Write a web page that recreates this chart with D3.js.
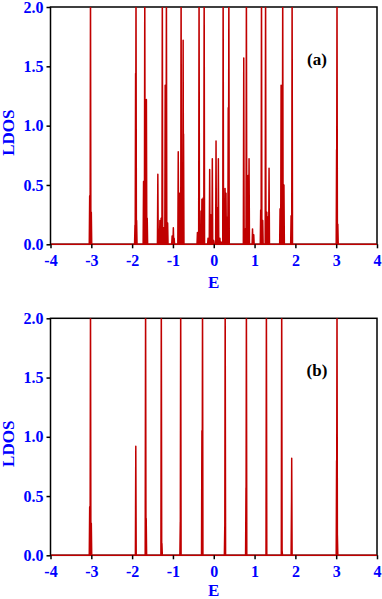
<!DOCTYPE html>
<html>
<head>
<meta charset="utf-8">
<script src="https://cdn.jsdelivr.net/npm/d3@7"></script>
<style>
  body { margin: 0; background: #fff; }
  text { font-family: "Liberation Serif", "Times New Roman", serif; font-weight: bold; }
</style>
</head>
<body>
<div id="chart"></div>
<script>
const width = 382;
const height = 599;

// peak positions (E) and heights (LDOS); tall peaks run off the top of the axis
const energiesA = [-3.04, -3.02, -3.0, -1.93, -1.915, -1.905, -1.89, -1.72, -1.70, -1.69, -1.67, -1.65, -1.63,
  -1.37, -1.35, -1.32, -1.29, -1.26, -1.23, -1.19, -1.17, -1.16, -1.13, -1.02, -0.99, -0.97,
  -0.87, -0.84, -0.80, -0.77, -0.75, -0.74, -0.40, -0.36, -0.31, -0.29, -0.26, -0.235,
  -0.14, -0.10, -0.07, -0.035, -0.02, 0.0, 0.056, 0.09, 0.113, 0.15, 0.18,
  0.23, 0.277, 0.30, 0.33, 0.355, 0.37, 0.735, 0.77, 0.80, 0.84, 0.865, 0.95, 0.98,
  1.15, 1.17, 1.20, 1.27, 1.30, 1.32, 1.355, 1.625, 1.65, 1.69, 1.72, 1.895, 1.92,
  3.01, 3.02, 3.04];
const heightsA = [0.41, 2.2, 0.27, 0.16, 1.44, 2.2, 0.2, 0.53, 0.27, 2.2, 0.22, 1.22, 0.22,
  0.59, 0.13, 0.2, 0.22, 2.2, 0.14, 1.34, 0.26, 2.2, 0.18, 0.07, 0.14, 0.05,
  0.78, 0.43, 2.2, 0.1, 1.72, 0.93, 0.1, 2.2, 0.28, 0.38, 0.39, 2.2,
  0.05, 0.63, 0.25, 0.72, 0.04, 0.03, 0.87, 0.31, 0.72, 0.05, 0.02,
  2.2, 0.47, 0.43, 0.23, 1.15, 2.2, 1.57, 0.13, 2.2, 0.58, 0.72, 0.13, 0.08,
  0.29, 2.2, 0.2, 2.2, 0.27, 0.23, 0.64, 0.3, 1.34, 2.2, 0.5, 0.24, 2.2,
  0.8, 2.2, 0.17];

const energiesB = [-3.04, -3.02, -3.0, -1.91, -1.67, -1.655, -1.285, -1.27, -0.82, -0.81, -0.29, -0.275,
  0.27, 0.28, 0.79, 0.80, 1.29, 1.665, 1.675, 1.905, 1.91, 3.01, 3.02, 3.03];
const heightsB = [0.41, 2.2, 0.27, 0.92, 2.2, 0.31, 2.2, 0.1, 0.28, 2.2, 1.05, 2.2,
  0.24, 2.2, 0.57, 2.2, 2.2, 2.2, 0.04, 0.44, 0.82, 0.8, 2.2, 0.17];

const xTicks = [-4, -3, -2, -1, 0, 1, 2, 3, 4];
const yTicks = [0.0, 0.5, 1.0, 1.5, 2.0];

const left = 50.5, right = 377;
const panels = [
  { top: 7, bottom: 244.3, energies: energiesA, heights: heightsA, label: "(a)", id: "a" },
  { top: 318.3, bottom: 555.3, energies: energiesB, heights: heightsB, label: "(b)", id: "b" }
];

const svg = d3.select("#chart").append("svg")
  .attr("width", width)
  .attr("height", height);

const x = d3.scaleLinear().domain([-4, 4]).range([left, right]);
const halfWidth = 0.01;

panels.forEach(p => {
  const y = d3.scaleLinear().domain([0, 2]).range([p.bottom, p.top]);

  // spike line: baseline with a narrow triangle per peak
  const pts = [[-4, 0]];
  d3.range(p.energies.length)
    .sort((i, j) => p.energies[i] - p.energies[j])
    .forEach(i => {
      const e = p.energies[i];
      pts.push([e - halfWidth, 0], [e, p.heights[i]], [e + halfWidth, 0]);
    });
  pts.push([4, 0]);

  svg.append("clipPath").attr("id", "clip-" + p.id)
    .append("rect")
      .attr("x", left).attr("y", p.top)
      .attr("width", right - left).attr("height", p.bottom - p.top + 2);

  const line = d3.line().x(d => x(d[0])).y(d => y(d[1]));

  // frame
  svg.append("rect")
      .attr("x", left).attr("y", p.top)
      .attr("width", right - left).attr("height", p.bottom - p.top)
      .attr("fill", "none")
      .attr("stroke", "#000")
      .attr("stroke-width", 1.5);

  svg.append("path")
      .datum(pts)
      .attr("clip-path", `url(#clip-${p.id})`)
      .attr("d", line)
      .attr("fill", "none")
      .attr("stroke", "#c00000")
      .attr("stroke-width", 1.5)
      .attr("stroke-linejoin", "round");

  const xAxis = svg.append("g")
      .attr("transform", `translate(0,${p.bottom})`)
      .call(d3.axisBottom(x).tickValues(xTicks).tickSize(4).tickPadding(6).tickFormat(d => String(d)));
  const yAxis = svg.append("g")
      .attr("transform", `translate(${left},0)`)
      .call(d3.axisLeft(y).tickValues(yTicks).tickSize(4).tickPadding(3).tickFormat(d3.format(".1f")));

  [xAxis, yAxis].forEach(a => {
    a.select(".domain").remove();
    a.selectAll(".tick line").attr("stroke", "#000").attr("stroke-width", 1.5);
    a.selectAll(".tick text")
        .attr("fill", "#0000ff")
        .style("font-size", "16px")
        .style("font-family", "'Liberation Serif', serif")
        .style("font-weight", "bold");
  });

  svg.append("text")
      .attr("x", (left + right) / 2)
      .attr("y", Math.min(p.bottom + 43.5, height - 3))
      .attr("text-anchor", "middle")
      .attr("fill", "#0000ff")
      .style("font-size", "17px")
      .text("E");

  svg.append("text")
      .attr("transform", `translate(13.5,${(p.top + p.bottom) / 2 + 7}) rotate(-90)`)
      .attr("text-anchor", "middle")
      .attr("fill", "#0000ff")
      .style("font-size", "17px")
      .text("LDOS");

  svg.append("text")
      .attr("x", 317)
      .attr("y", p.top + 58)
      .attr("text-anchor", "middle")
      .attr("fill", "#000")
      .style("font-size", "17px")
      .text(p.label);
});
</script>
</body>
</html>
